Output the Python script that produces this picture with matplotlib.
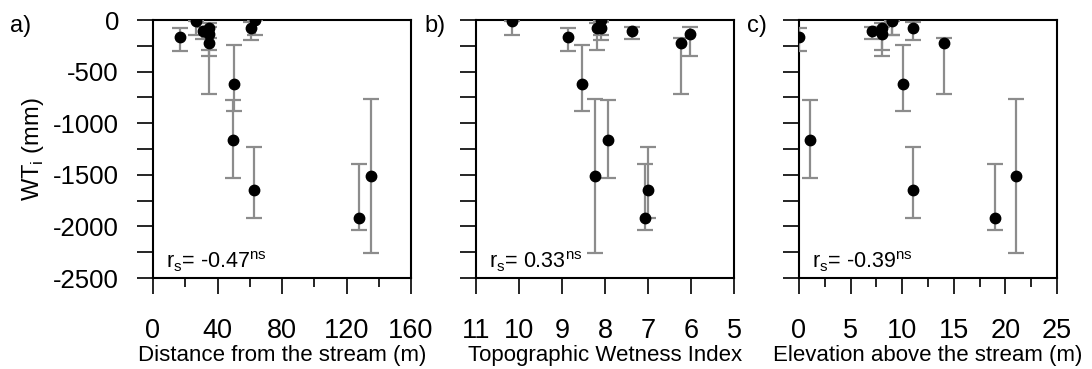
import numpy as np
import matplotlib
matplotlib.use("Agg")
import matplotlib.pyplot as plt
from matplotlib.ticker import MultipleLocator

plt.rcParams['font.family'] = ['Liberation Sans', 'DejaVu Sans']

# WT_i values (mm) and their ranges, one entry per site
wt = [-162, -10, -107, -74, -136, -226, -621, -1158, -78, 0, -1646, -1915, -1510]
wt_top = [-81, -5, -65, -30, -65, -178, -243, -776, -16, -10, -1235, -1397, -766]
wt_bottom = [-298, -145, -187, -290, -350, -717, -880, -1530, -194, -145, -1915, -2037, -2257]

# predictors
distance = [16.5, 26.5, 30.8, 34.8, 34.8, 34.8, 50.3, 49.4, 60.6, 63.1, 62.5, 127.9, 135.1]
twi = [8.85, 10.16, 7.37, 8.19, 6.03, 6.24, 8.54, 7.92, 8.10, 8.10, 6.99, 7.08, 8.23]
elevation = [0.03, 9.0, 7.04, 8.04, 8.04, 14.08, 10.04, 1.07, 11.01, 9.04, 11.08, 19.0, 21.0]

panel_tags = ["a)", "b)", "c)"]
xlabels = ["Distance from the stream (m)", "Topographic Wetness Index",
           "Elevation above the stream (m)"]
rs_text = ["-0.47", "0.33", "-0.39"]

fig = plt.figure(figsize=(10.92, 3.69), dpi=100)
W, H = 1092, 369
lefts = [153, 476, 799]
tag_x = [10, 424, 747]
axes = [fig.add_axes([l / W, (H - 278) / H, 258 / W, 258 / H]) for l in lefts]

yerr = np.array([np.array(wt) - np.array(wt_bottom), np.array(wt_top) - np.array(wt)])
yerr = np.clip(yerr, 0, None)

for i, (ax, xs) in enumerate(zip(axes, [distance, twi, elevation])):
    ax.errorbar(xs, wt, yerr=yerr, fmt='o', color='black', ms=7.5,
                ecolor='#8c8c8c', elinewidth=1.6, capsize=6, capthick=1.6, zorder=3)
    ax.set_ylim(-2500, 0)
    ax.yaxis.set_major_locator(MultipleLocator(250))
    if i == 0:
        ax.set_yticklabels([f"{int(v)}" if v % 500 == 0 else "" for v in ax.get_yticks()])
        ax.set_ylabel("WT$_{\\mathregular{i}}$ (mm)", fontsize=17, labelpad=5)
    else:
        ax.set_yticklabels([])
    for s in ax.spines.values():
        s.set_linewidth(1.5)
    ax.tick_params(axis='both', which='major', direction='out', length=11.5, width=1.2,
                   labelsize=18.5)
    ax.tick_params(axis='x', which='major', labelsize=19.5)
    ax.tick_params(axis='x', which='minor', direction='out', length=6.5, width=1.2)
    ax.tick_params(axis='x', pad=17)
    ax.tick_params(axis='y', pad=13)
    ax.set_xlabel(xlabels[i], fontsize=16, labelpad=1)
    ax.text(0.05, 0.015, "r$_{\\mathregular{s}}$= " + rs_text[i] + "$^{\\mathregular{ns}}$",
            transform=ax.transAxes, fontsize=15.5, ha='left', va='bottom')
    fig.text(tag_x[i] / W, 1 - 26 / H, panel_tags[i], fontsize=17, ha='left', va='center')

axes[0].set_xlim(0, 160)
axes[0].xaxis.set_major_locator(MultipleLocator(40))
axes[0].xaxis.set_minor_locator(MultipleLocator(20))

axes[1].set_xlim(11, 5)
axes[1].xaxis.set_major_locator(MultipleLocator(1))

axes[2].set_xlim(0, 25)
axes[2].xaxis.set_major_locator(MultipleLocator(5))
axes[2].xaxis.set_minor_locator(MultipleLocator(2.5))

fig.savefig("out.png", dpi=100)
